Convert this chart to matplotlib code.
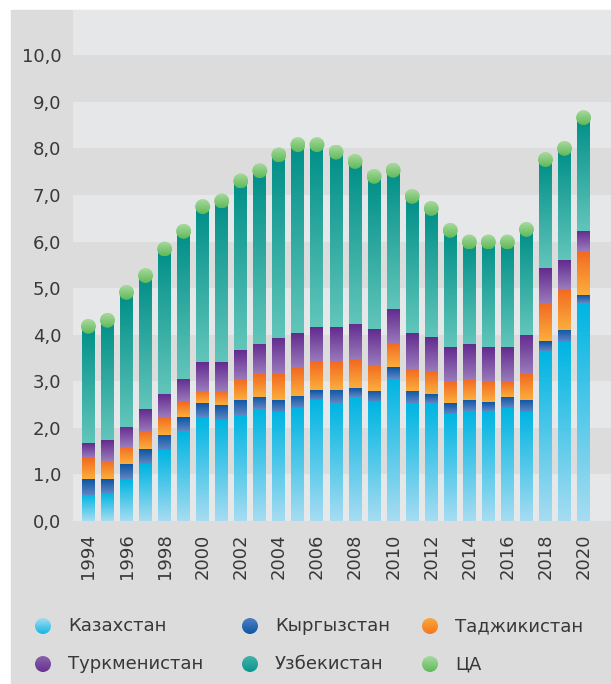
import numpy as np
import matplotlib
matplotlib.use("Agg")
import matplotlib.pyplot as plt
from matplotlib.colors import LinearSegmentedColormap
from matplotlib.patches import Rectangle, Ellipse, Circle

plt.rcParams["font.family"] = ["DejaVu Sans"]

years = list(range(1994, 2021))
kaz = [0.56, 0.60, 0.90, 1.22, 1.52, 1.93, 2.23, 2.17, 2.27, 2.40, 2.34, 2.42, 2.60, 2.53,
       2.66, 2.55, 3.05, 2.53, 2.53, 2.30, 2.36, 2.36, 2.42, 2.34, 3.65, 3.84, 4.68]
kyr = [0.34, 0.30, 0.32, 0.32, 0.33, 0.30, 0.30, 0.32, 0.33, 0.26, 0.26, 0.26, 0.21, 0.28,
       0.19, 0.24, 0.25, 0.26, 0.19, 0.23, 0.24, 0.19, 0.24, 0.26, 0.21, 0.26, 0.17]
taj = [0.45, 0.39, 0.37, 0.37, 0.38, 0.32, 0.26, 0.30, 0.43, 0.49, 0.55, 0.60, 0.60, 0.60,
       0.60, 0.56, 0.50, 0.47, 0.48, 0.45, 0.43, 0.43, 0.32, 0.55, 0.80, 0.88, 0.94]
turk = [0.32, 0.45, 0.43, 0.49, 0.49, 0.50, 0.62, 0.62, 0.64, 0.65, 0.78, 0.75, 0.75, 0.75,
        0.78, 0.77, 0.75, 0.77, 0.75, 0.75, 0.77, 0.75, 0.75, 0.84, 0.77, 0.62, 0.43]
uzb = [2.51, 2.57, 2.89, 2.87, 3.12, 3.17, 3.34, 3.46, 3.63, 3.72, 3.93, 4.05, 3.92, 3.76,
       3.49, 3.28, 2.98, 2.94, 2.76, 2.51, 2.19, 2.26, 2.26, 2.27, 2.33, 2.40, 2.44]

names = ["Казахстан", "Кыргызстан", "Таджикистан", "Туркменистан", "Узбекистан", "ЦА"]
# (bottom colour, top colour) for the bar gradients
bar_grads = [("#a6dcf1", "#00b5e2"), ("#5e86c4", "#0c55a3"), ("#fbae3d", "#f26a21"),
             ("#9a7bbb", "#632b8f"), ("#62c5ba", "#008f88")]
# (bottom, top) for the round markers in the legend
leg_grads = [("#14b6e3", "#a3dcf3"), ("#0f56a4", "#4f7fc4"), ("#f37821", "#fba63b"),
             ("#66318f", "#8a63ad"), ("#0b958d", "#40b3a9"), ("#5fba59", "#a8d99e")]
bg = "#dcdcdc"
light = "#e6e7e9"
txt = "#383838"

W, H = 611, 684
fig = plt.figure(figsize=(W / 100, H / 100), dpi=100, facecolor="white")
fig.add_artist(Rectangle((11 / W, 0), (W - 11) / W, (H - 10) / H,
                         transform=fig.transFigure, color=bg, zorder=0))


def gradient(ax, x0, x1, y0, y1, c_bottom, c_top, clip=None, z=2):
    cmap = LinearSegmentedColormap.from_list("g", [c_bottom, c_top])
    im = ax.imshow(np.linspace(0, 1, 64).reshape(-1, 1), cmap=cmap,
                   extent=(x0, x1, y0, y1), origin="lower", aspect="auto",
                   interpolation="bilinear", zorder=z)
    if clip is not None:
        im.set_clip_path(clip)
    return im


ax_l, ax_b, ax_w, ax_h = 73, H - 521, W - 73, 511
ax = fig.add_axes([ax_l / W, ax_b / H, ax_w / W, ax_h / H])
ax.set_facecolor(bg)
xlim = (1993.19, 2021.44)
ylim = (0, 10.97)

for lo in range(0, 11, 2):
    ax.axhspan(lo, lo + 1, color=light, zorder=0, lw=0)

series = [kaz, kyr, taj, turk, uzb]
bottom = np.zeros(len(years))
for vals, (cb, ct) in zip(series, bar_grads):
    bars = ax.bar(years, vals, bottom=bottom, width=0.68, color="none", lw=0)
    for b in bars:
        x0, y0 = b.get_x(), b.get_y()
        gradient(ax, x0, x0 + b.get_width(), y0, y0 + b.get_height(), cb, ct)
    bottom = bottom + np.array(vals)
total = bottom

# green total markers, round on screen
px_x = ax_w / (xlim[1] - xlim[0])
px_y = ax_h / (ylim[1] - ylim[0])
d = 15
for yr, t in zip(years, total):
    e = Ellipse((yr, t), d / px_x, d / px_y, facecolor="none", lw=0, zorder=3)
    ax.add_patch(e)
    gradient(ax, yr - d / px_x / 2, yr + d / px_x / 2, t - d / px_y / 2, t + d / px_y / 2,
             "#5fba59", "#a8d99e", clip=e, z=3)

ax.set_xlim(*xlim)
ax.set_ylim(*ylim)
ax.set_yticks(range(0, 11))
ax.set_yticklabels([f"{v},0" for v in range(0, 11)], fontsize=13, color=txt)
ax.set_xticks(years[::2])
ax.set_xticklabels([str(y) for y in years[::2]], rotation=90, fontsize=13, color=txt)
ax.tick_params(axis="y", length=0, pad=8.5)
ax.tick_params(axis="x", length=0, pad=9)
for s in ax.spines.values():
    s.set_visible(False)

# legend area in pixel units
lax = fig.add_axes([0, 0, 1, 84 / H])
lax.set_xlim(0, W)
lax.set_ylim(0, 84)
lax.axis("off")
pos = [(43, 626), (250, 626), (430, 626), (43, 664), (250, 664), (430, 664)]
r = 8
for (mx, my), name, (cb, ct) in zip(pos, names, leg_grads):
    cy = H - my
    c = Circle((mx, cy), r, facecolor="none", lw=0)
    lax.add_patch(c)
    gradient(lax, mx - r, mx + r, cy - r, cy + r, cb, ct, clip=c)
    lax.text(mx + 25, cy, name, fontsize=13, color=txt, va="center", ha="left")
lax.set_xlim(0, W)
lax.set_ylim(0, 84)

fig.savefig("out.png", dpi=100, facecolor=fig.get_facecolor())
